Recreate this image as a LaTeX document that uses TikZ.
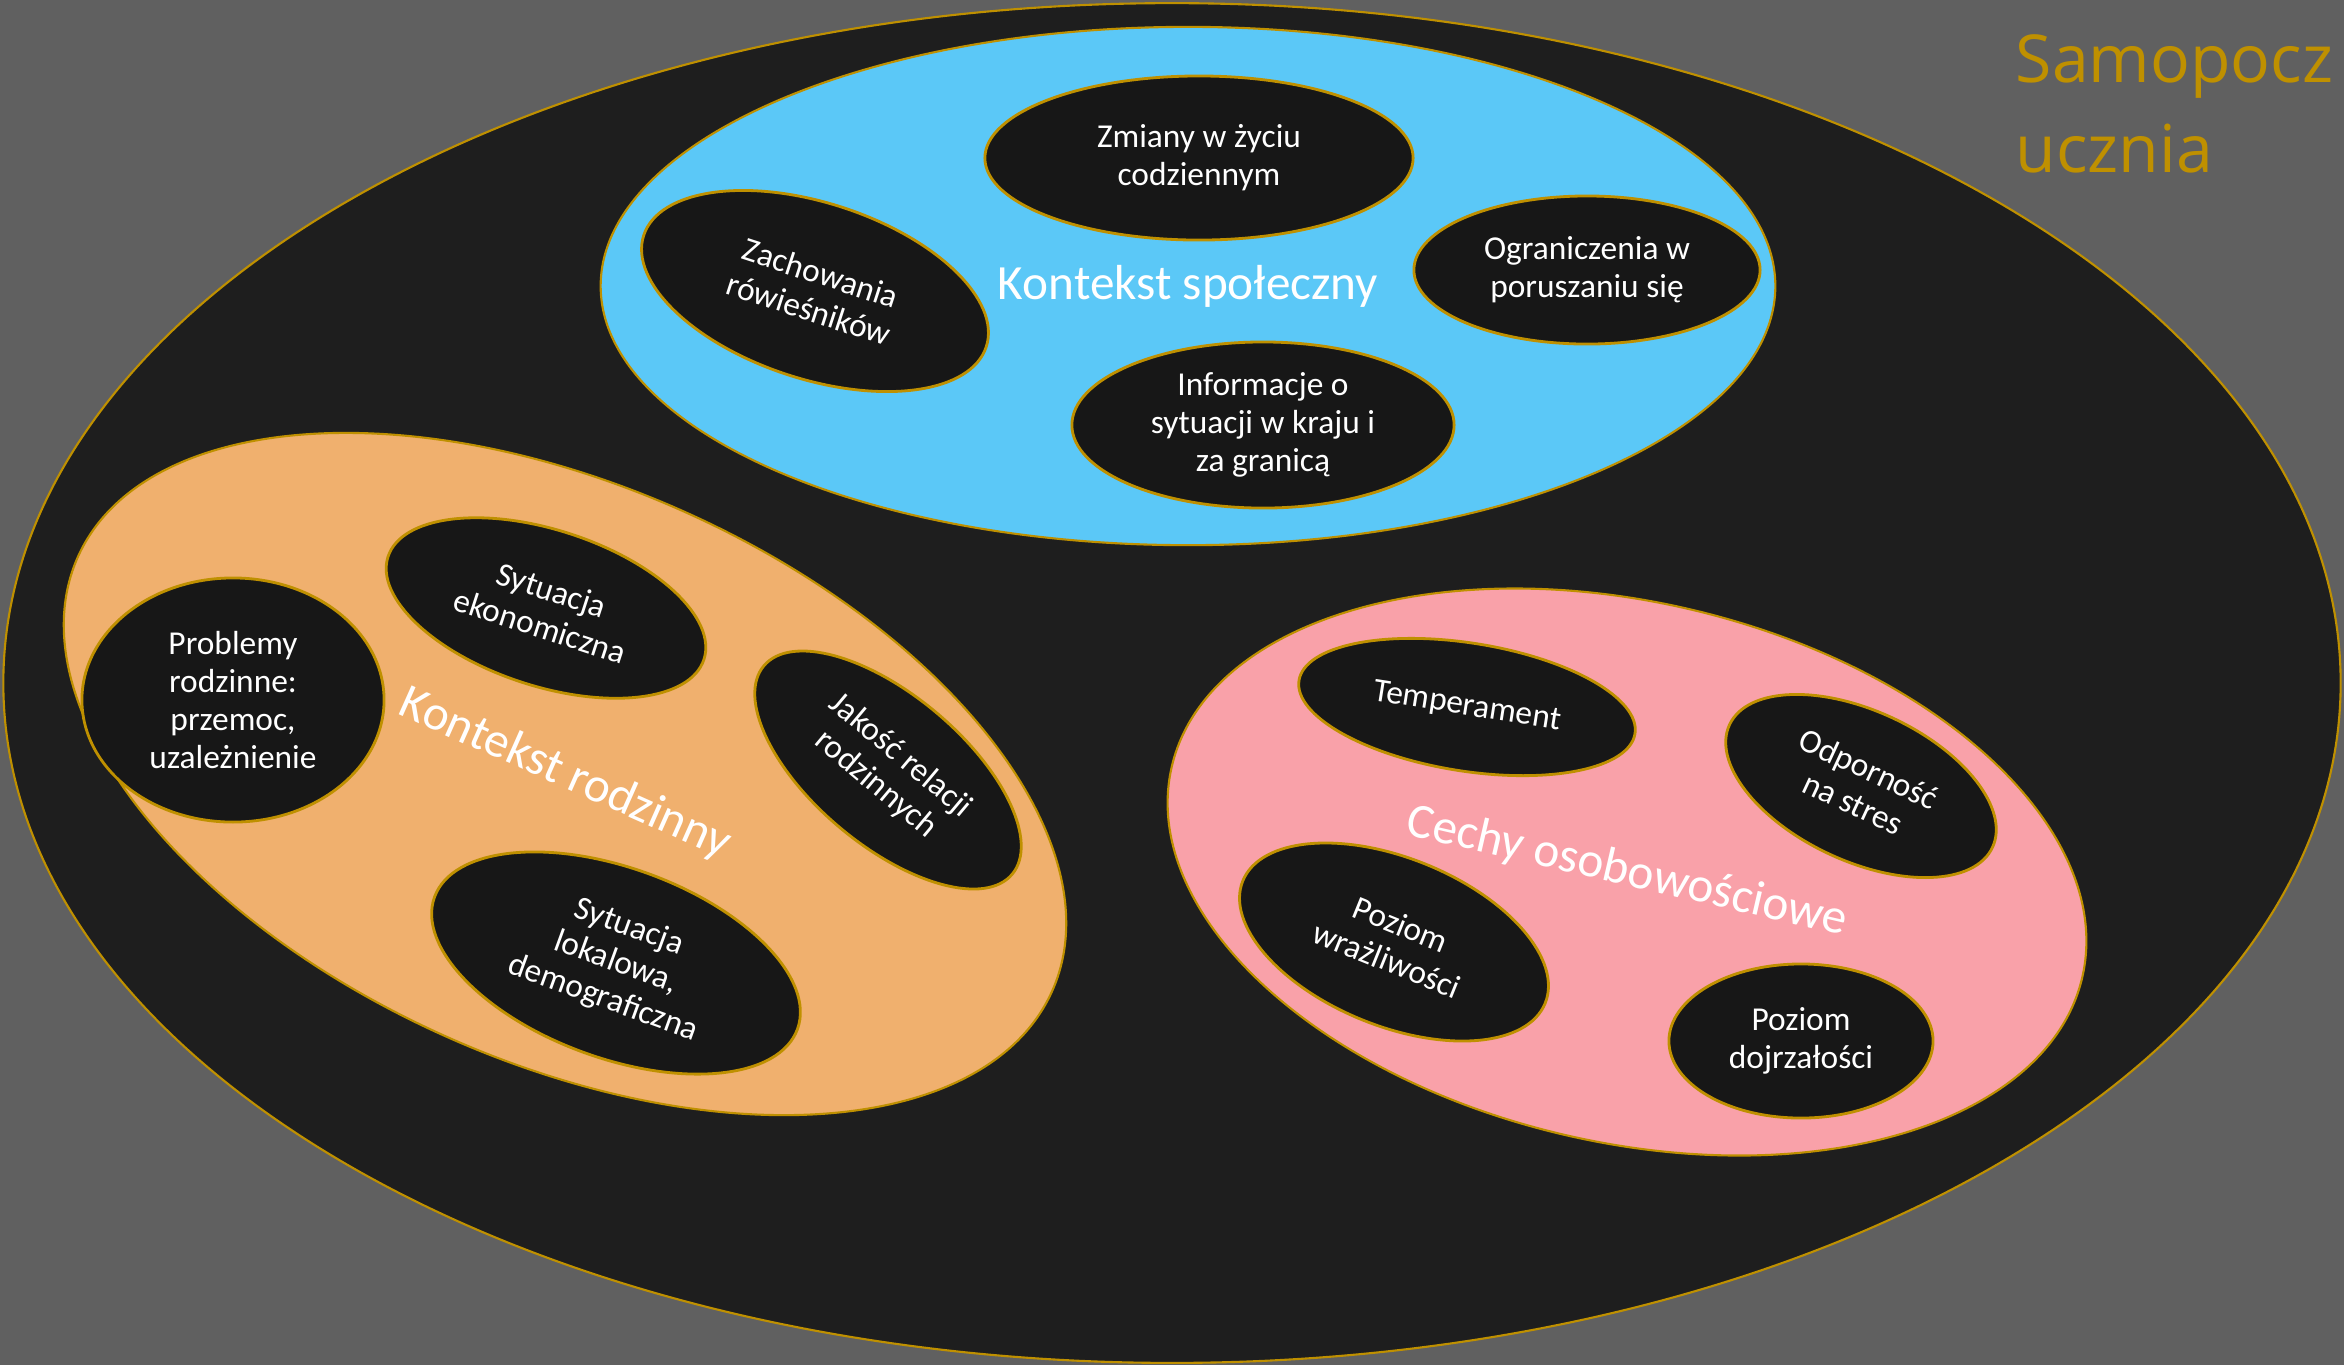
\documentclass[tikz,border=0pt]{standalone}
\usepackage{fontspec}
\setmainfont{Carlito}
\newfontfamily\titlefont{Open Sans}
\usetikzlibrary{shapes.geometric}

\definecolor{slide}{HTML}{606060}
\definecolor{outerfill}{HTML}{1E1E1E}
\definecolor{blobfill}{HTML}{171717}
\definecolor{gold}{HTML}{BF9000}
\definecolor{skyblue}{HTML}{5BC8F7}
\definecolor{peach}{HTML}{F0B06E}
\definecolor{rose}{HTML}{F9A1A9}

\tikzset{
  group/.style={ellipse, draw=gold, line width=0.6pt, inner sep=0pt, text=white,
    font=\fontsize{14}{16}\selectfont},
  blob/.style={ellipse, draw=gold, line width=0.8pt, fill=blobfill, inner sep=0pt,
    text=white, align=center, font=\fontsize{9.5}{10.8}\selectfont},
  title/.style={anchor=base west, inner sep=0pt, text=gold,
    font=\titlefont\fontsize{18.8}{24}\selectfont}
}

\begin{document}
\begin{tikzpicture}[x=0.01cm, y=-0.01cm]
\fill[slide] (0,0) rectangle (2344,1365);
\useasboundingbox (0,0) rectangle (2344,1365);
\clip (0,0) rectangle (2344,1365);

\node[group, fill=outerfill, minimum width=23.36cm, minimum height=13.59cm] (samopoczucie) at (1172,683) {};
\node[title] (tytul) at (2015,82) {Samopocz};
\node[title] (tytul2) at (2015,172) {ucznia};

% kontekst spoleczny
\node[group, fill=skyblue, minimum width=11.74cm, minimum height=5.18cm] (spoleczny) at (1188,286) {Kontekst społeczny};
\node[blob, minimum width=4.28cm, minimum height=1.64cm] (zmiany) at (1199,158) {Zmiany w życiu\\codziennym};
\node[blob, minimum width=3.6cm, minimum height=1.76cm, rotate=-18] (zachowania) at (815,291) {Zachowania\\rówieśników};
\node[blob, minimum width=3.46cm, minimum height=1.48cm] (ograniczenia) at (1587,270) {Ograniczenia w\\poruszaniu się};
\node[blob, minimum width=3.82cm, minimum height=1.66cm] (informacje) at (1263,425) {Informacje o\\sytuacji w kraju i\\za granicą};

% kontekst rodzinny
\node[group, fill=peach, minimum width=10.66cm, minimum height=5.76cm, rotate=-24] (rodzinny) at (565,774) {Kontekst rodzinny};
\node[blob, minimum width=3.02cm, minimum height=2.44cm] (problemy) at (233,700) {Problemy\\rodzinne:\\przemoc,\\uzależnienie};
\node[blob, minimum width=3.32cm, minimum height=1.56cm, rotate=-18] (ekonomiczna) at (546,608) {Sytuacja\\ekonomiczna};
\node[blob, minimum width=3.24cm, minimum height=1.5cm, rotate=-40] (relacje) at (888,770) {Jakość relacji\\rodzinnych};
\node[blob, minimum width=3.86cm, minimum height=1.9cm, rotate=-20] (lokalowa) at (616,963) {Sytuacja\\lokalowa,\\demograficzna};

% cechy osobowosciowe
\node[group, fill=rose, minimum width=9.34cm, minimum height=5.4cm, rotate=-13] (cechy) at (1627,872) {Cechy osobowościowe};
\node[blob, minimum width=3.4cm, minimum height=1.28cm, rotate=-9] (temperament) at (1467,707) {Temperament};
\node[blob, minimum width=2.9cm, minimum height=1.5cm, rotate=-25] (odpornosc) at (1861,786) {Odporność\\na stres};
\node[blob, minimum width=3.26cm, minimum height=1.68cm, rotate=-22] (wrazliwosc) at (1394,942) {Poziom\\wrażliwości};
\node[blob, minimum width=2.64cm, minimum height=1.54cm] (dojrzalosc) at (1801,1041) {Poziom\\dojrzałości};
\end{tikzpicture}
\end{document}
